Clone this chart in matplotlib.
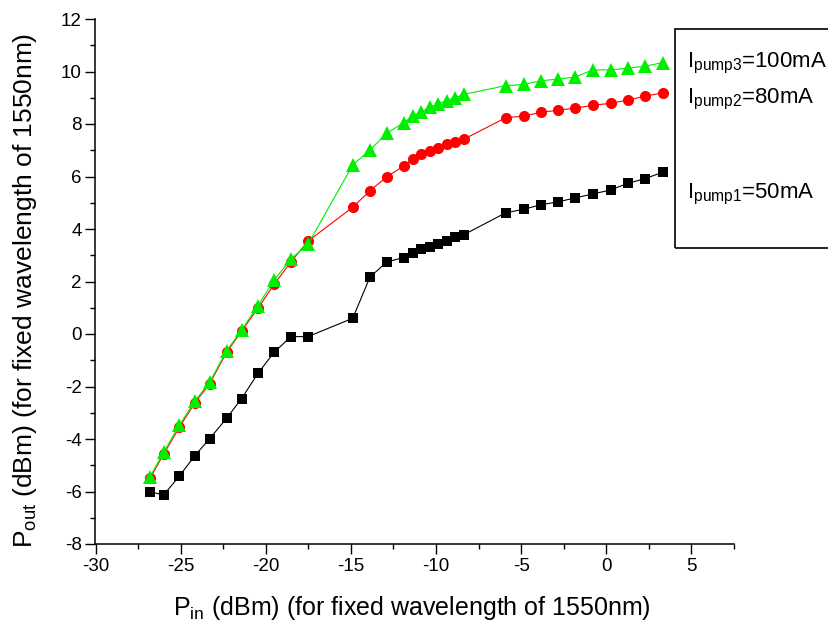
import matplotlib
matplotlib.use("Agg")
import matplotlib.pyplot as plt
from matplotlib.patches import Rectangle
from matplotlib.ticker import MultipleLocator

plt.rcParams['font.family'] = ['Liberation Sans', 'DejaVu Sans']
plt.rcParams['mathtext.fontset'] = 'custom'
plt.rcParams['mathtext.rm'] = 'Liberation Sans'
plt.rcParams['mathtext.it'] = 'Liberation Sans:italic'
plt.rcParams['axes.unicode_minus'] = False

# input power, shared by all three pump currents (dBm)
p_in = [-26.8, -26.0, -25.07, -24.16, -23.3, -22.3, -21.42, -20.46, -19.5, -18.52,
        -17.52, -14.89, -13.88, -12.88, -11.9, -11.35, -10.89, -10.38, -9.89, -9.38,
        -8.87, -8.37, -5.9, -4.85, -3.81, -2.84, -1.81, -0.81, 0.26, 1.26, 2.28, 3.31]

p_out_50 = [-6.01, -6.13, -5.41, -4.63, -3.99, -3.21, -2.46, -1.50, -0.69, -0.10,
            -0.10, 0.60, 2.17, 2.75, 2.91, 3.07, 3.23, 3.33, 3.42, 3.53,
            3.68, 3.78, 4.62, 4.75, 4.93, 5.03, 5.19, 5.33, 5.49, 5.74, 5.92, 6.16]

p_out_80 = [-5.50, -4.58, -3.55, -2.62, -1.90, -0.70, 0.11, 0.98, 1.90, 2.75,
            3.54, 4.83, 5.46, 5.99, 6.40, 6.67, 6.86, 6.97, 7.10, 7.23,
            7.30, 7.42, 8.24, 8.30, 8.45, 8.52, 8.61, 8.71, 8.79, 8.91, 9.06, 9.19]

p_out_100 = [-5.44, -4.51, -3.47, -2.55, -1.84, -0.64, 0.15, 1.08, 2.06, 2.86,
             3.42, 6.44, 7.01, 7.65, 8.05, 8.30, 8.46, 8.63, 8.76, 8.89,
             9.00, 9.13, 9.46, 9.51, 9.65, 9.71, 9.79, 10.06, 10.06, 10.13, 10.20, 10.34]

labels = ['I$_{\\mathregular{pump3}}$=100mA',
          'I$_{\\mathregular{pump2}}$=80mA',
          'I$_{\\mathregular{pump1}}$=50mA']

W, H = 829, 625
fig = plt.figure(figsize=(W / 100, H / 100), dpi=100)
ax = fig.add_axes([95.5 / W, 1 - 544 / H, (734 - 95.5) / W, (544 - 19) / H])

ax.plot(p_in, p_out_50, '-', color='black', lw=0.8, marker='s', ms=7.5, mew=0, zorder=3)
ax.plot(p_in, p_out_80, '-', color='red', lw=0.8, marker='o', ms=8, mew=0, zorder=4)
ax.plot(p_in, p_out_100, '-', color='#00ee00', lw=0.8, marker='^', ms=10, mew=0, zorder=5)

ax.set_xlim(-30, 7.5)
ax.set_ylim(-8, 12)
ax.xaxis.set_major_locator(MultipleLocator(5))
ax.xaxis.set_minor_locator(MultipleLocator(2.5))
ax.yaxis.set_major_locator(MultipleLocator(2))
ax.yaxis.set_minor_locator(MultipleLocator(1))
ax.spines['top'].set_visible(False)
ax.spines['right'].set_visible(False)
for s in ('left', 'bottom'):
    ax.spines[s].set_linewidth(1.1)
ax.tick_params(which='major', direction='out', length=7, width=1.0, labelsize=13.5, pad=3)
ax.tick_params(which='minor', direction='out', length=3.6, width=1.0)

fig.text(412 / W, 1 - 615 / H, 'P$_{\\mathregular{in}}$ (dBm) (for fixed wavelength of 1550nm)',
         ha='center', va='baseline', fontsize=18)
fig.text(39 / W, 1 - 290 / H, 'P$_{\\mathregular{out}}$ (dBm) (for fixed wavelength of 1550nm)',
         ha='right', va='center', rotation=90, fontsize=19)

# legend box, cut by the right edge of the figure as in the original
fig.patches.append(Rectangle((675 / W, 1 - 247.5 / H), 0.3, (247.5 - 29.3) / H,
                             transform=fig.transFigure, fill=False, lw=1.2, ec='black'))
for lab, yb in zip(labels, [67, 103, 198]):
    fig.text(687 / W, 1 - yb / H, lab, ha='left', va='baseline', fontsize=16)

fig.savefig('out.png', dpi=100)
